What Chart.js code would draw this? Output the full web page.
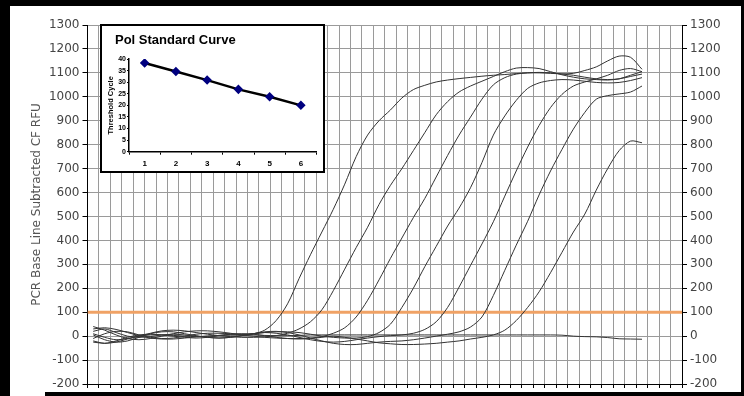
<!DOCTYPE html>
<html>
<head>
<meta charset="utf-8">
<script src="https://cdn.jsdelivr.net/npm/chart.js@4"></script>
<style>
  html, body { margin: 0; padding: 0; background: #000; }
  #frame { position: relative; width: 744px; height: 396px; overflow: hidden; background: #000; }
  #paper { position: absolute; left: 10px; top: 6px; width: 731px; height: 386px; background: #fff; }
  #paperLow { position: absolute; left: 10px; top: 380px; width: 35px; height: 16px; background: #fff; }
  #main { position: absolute; left: 0; top: 0; }
  #inset { position: absolute; left: 100px; top: 24px; width: 225px; height: 149px;
           box-sizing: border-box; border: 2px solid #000; background: #fff; }
  #insetChart { position: absolute; left: 0; top: 0; }
</style>
</head>
<body>
<div id="frame">
  <div id="paper"></div>
  <div id="paperLow"></div>
  <canvas id="main" width="744" height="396"></canvas>
  <div id="inset"><canvas id="insetChart" width="221" height="145"></canvas></div>
</div>
<script>
// amplification plot: cycle positions and RFU per well
const cycles = [0.5, 1.5, 2.5, 3.5, 4.5, 5.5, 6.5, 7.5, 8.5, 9.5, 10.5, 11.5, 12.5, 13.5, 14.5, 15.5, 16.5,
  17.5, 18.5, 19.5, 20.5, 21.5, 22.5, 23.5, 24.5, 25.5, 26.5, 27.5, 28.5, 29.5, 30.5, 31.5, 32.5, 33.5,
  34.5, 35.5, 36.5, 37.5, 38.5, 39.5, 40.5, 41.5, 42.5, 43.5, 44.5, 45.5, 46.5, 47.5, 48.5];

const well1 = [30, 35, 28, 15, 2, -8, -12, -12, -8, -3, 0, 3, 5, 5, 10, 25, 65, 135, 240, 340, 435, 530, 635,
  750, 840, 900, 945, 995, 1030, 1048, 1062, 1070, 1076, 1081, 1086, 1090, 1093, 1097, 1100, 1100, 1098,
  1096, 1098, 1110, 1125, 1150, 1170, 1165, 1115];
const well2 = [-25, -30, -25, -12, 0, 12, 22, 25, 22, 15, 8, 2, -2, -5, -5, -3, 2, 12, 30, 60, 110, 190, 280,
  370, 455, 550, 630, 700, 775, 850, 925, 980, 1020, 1045, 1065, 1085, 1105, 1120, 1122, 1118, 1105, 1092,
  1082, 1075, 1072, 1070, 1075, 1090, 1105];
const well3 = [40, 25, 5, -10, -15, -10, 0, 10, 18, 22, 22, 18, 12, 5, 0, -5, -8, -10, -10, -8, -2, 12, 35, 80,
  150, 235, 325, 410, 495, 575, 665, 755, 840, 915, 990, 1050, 1080, 1095, 1100, 1102, 1100, 1095, 1090,
  1082, 1075, 1072, 1075, 1085, 1095];
const well4 = [-10, 10, 20, 18, 5, -5, -10, -8, 0, 8, 12, 12, 10, 8, 10, 15, 18, 18, 15, 8, 0, -5, -8, -8, -2,
  15, 50, 120, 200, 290, 375, 460, 535, 620, 725, 840, 920, 985, 1035, 1058, 1068, 1072, 1070, 1065, 1060,
  1058, 1060, 1068, 1080];
const well5 = [5, -15, -25, -20, -5, 10, 18, 18, 10, 2, -5, -8, -5, 2, 10, 15, 12, 5, -5, -15, -22, -25, -22,
  -15, -8, -2, 2, 5, 12, 28, 60, 120, 205, 295, 385, 478, 585, 690, 790, 880, 955, 1010, 1045, 1062, 1075,
  1090, 1110, 1118, 1105];
const well6 = [20, 30, 15, 0, -5, -2, 5, 8, 5, 0, -5, -8, -5, 2, 10, 18, 20, 15, 5, -8, -20, -30, -35, -35,
  -30, -25, -22, -20, -15, -8, 0, 8, 18, 38, 80, 170, 275, 380, 480, 590, 690, 780, 865, 935, 990, 1005,
  1012, 1020, 1045];
const well7 = [-20, -30, -20, -5, 5, 8, 5, 0, -5, -8, -5, 2, 8, 10, 8, 2, -5, -10, -12, -10, -5, 0, -5, -12,
  -20, -28, -32, -35, -35, -33, -30, -25, -20, -12, -5, 5, 25, 65, 120, 185, 265, 350, 435, 510, 610, 700,
  775, 815, 808];
const ntc = [10, -5, -15, -10, 0, 5, 5, 3, 0, -2, 0, 3, 5, 5, 5, 3, 2, 2, 3, 5, 5, 5, 5, 5, 5, 5, 5, 5, 5, 5,
  5, 5, 5, 5, 5, 5, 5, 5, 5, 5, 5, 4, 0, -2, -3, -6, -11, -12, -13];

const threshold = 100;
const cycleMin = 0, cycleMax = 52;
const rfuMin = -200, rfuMax = 1300, rfuStep = 100;

// inset standard curve
const stdLabels = ["1", "2", "3", "4", "5", "6"];
const stdCt = [38.3, 34.6, 30.9, 26.9, 23.7, 20.0];

const wells = [well1, well2, well3, well4, well5, well6, well7, ntc];
const gridGray = "#9a9a9a";
const axisFont = { family: "DejaVu Sans", size: 12 };
const plain = (v) => String(v); // no thousands separator

const curveSets = wells.map((w) => ({
  data: w.map((v, i) => ({ x: cycles[i], y: v })),
  borderColor: "#333",
  borderWidth: 1,
  tension: 0.3,
  pointRadius: 0,
  order: 0,
}));

new Chart(document.getElementById("main"), {
  type: "line",
  data: {
    datasets: [
      ...curveSets,
      {
        data: [{ x: cycleMin, y: threshold }, { x: cycleMax, y: threshold }],
        borderColor: "#f0a265",
        borderWidth: 3,
        pointRadius: 0,
        order: 1,
      },
    ],
  },
  options: {
    responsive: false,
    animation: false,
    layout: { padding: { top: 25, left: 0, right: 0, bottom: 0 } },
    plugins: { legend: { display: false }, tooltip: { enabled: false } },
    scales: {
      x: {
        type: "linear", min: cycleMin, max: cycleMax,
        ticks: { display: false, stepSize: 1 },
        grid: { color: gridGray, tickColor: "#000", tickLength: 4 },
        border: { color: "#000" },
        afterFit(s) { s.height = 12; },
      },
      y: {
        min: rfuMin, max: rfuMax,
        ticks: { stepSize: rfuStep, color: "#444", font: axisFont, padding: 3, autoSkip: false, callback: plain },
        grid: { color: gridGray, tickColor: "#000", tickLength: 5 },
        border: { color: "#000" },
        title: { display: true, text: "PCR Base Line Subtracted CF RFU", color: "#555", font: axisFont, padding: { top: 30, bottom: 0 } },
        afterFit(s) { s.width = 87.5; },
      },
      y2: {
        position: "right", min: rfuMin, max: rfuMax,
        ticks: { stepSize: rfuStep, color: "#444", font: axisFont, padding: 3, autoSkip: false, callback: plain },
        grid: { drawOnChartArea: false, tickColor: "#000", tickLength: 5 },
        border: { color: "#000" },
        afterFit(s) { s.width = 62; },
      },
    },
  },
});

const insetFont = { family: "Liberation Sans", weight: "bold" };

new Chart(document.getElementById("insetChart"), {
  type: "line",
  data: {
    labels: stdLabels,
    datasets: [{
      data: stdCt,
      borderColor: "#000",
      borderWidth: 2.5,
      tension: 0,
      pointStyle: "rectRot",
      pointRadius: 3,
      pointBackgroundColor: "#00007f",
      pointBorderColor: "#00007f",
    }],
  },
  options: {
    responsive: false,
    animation: false,
    layout: { padding: { left: 13, right: 5, top: 0, bottom: 0 } },
    plugins: {
      legend: { display: false },
      tooltip: { enabled: false },
      title: {
        display: true, text: "Pol Standard Curve", align: "start", color: "#000",
        font: { ...insetFont, size: 13 }, padding: { top: 7, bottom: 10.4 },
      },
    },
    scales: {
      x: {
        offset: true,
        grid: { offset: true, drawOnChartArea: false, tickColor: "#000", tickLength: 3 },
        border: { color: "#000", width: 1.5 },
        ticks: { color: "#000", font: { ...insetFont, size: 8 }, padding: 4, maxRotation: 0 },
        afterFit(s) { s.height = 19.3; },
      },
      y: {
        min: 0, max: 40,
        ticks: { stepSize: 5, color: "#000", font: { ...insetFont, size: 7 }, padding: 1 },
        grid: { drawOnChartArea: false, tickColor: "#000", tickLength: 2 },
        border: { color: "#000", width: 1.5 },
        title: { display: true, text: "Threshold Cycle", color: "#000", font: { ...insetFont, size: 7.5 }, padding: { top: -8.8, bottom: 0 } },
        afterFit(s) { s.width = 14; },
      },
    },
  },
});
</script>
</body>
</html>
